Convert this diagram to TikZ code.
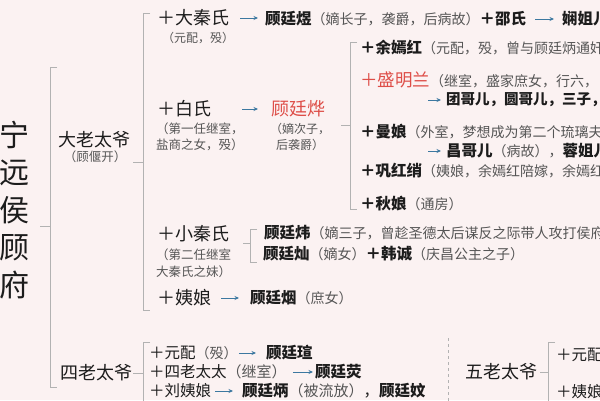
\documentclass[tikz,border=0pt]{standalone}
\usepackage{fontspec}
\setmainfont{Noto Sans CJK SC}
\usetikzlibrary{arrows.meta}
\definecolor{bgc}{RGB}{251,242,242}
\definecolor{ink}{RGB}{28,28,28}
\definecolor{paren}{RGB}{85,85,85}
\definecolor{brkc}{RGB}{178,178,178}
\definecolor{arrc}{RGB}{60,120,160}
\definecolor{redc}{RGB}{222,78,72}
\newcommand\nm[1]{{\fontsize{15.5}{18}\selectfont\bfseries\color{ink}#1}}
\newcommand\pa[1]{{\fontsize{14}{16}\selectfont\color{paren}#1}}
\newcommand\pb[1]{{\fontsize{15}{17}\selectfont\color{paren}#1}}
\newcommand\rg[1]{{\fontsize{15.5}{18}\selectfont\color{ink}#1}}
\newcommand\rd[1]{{\fontsize{17.5}{20}\selectfont\color{redc}#1}}
\tikzset{
  txt/.style={inner sep=0pt, anchor=west, text=ink},
  bigtxt/.style={txt, font=\fontsize{18}{21}\selectfont},
  subtxt/.style={txt, align=left, font=\fontsize{12.5}{16.5}\selectfont, text=paren},
  brk/.style={draw=brkc, line width=0.8pt},
  arr/.style={draw=arrc, line width=0.7pt, -{Stealth[length=4.5pt,width=4pt]}},
  dashline/.style={draw=brkc, line width=0.8pt, dash pattern=on 3pt off 3pt}
}
\begin{document}
\begin{tikzpicture}[x=1pt,y=-1pt]
\useasboundingbox (0,0) rectangle (600,400);
\fill[bgc] (0,0) rectangle (600,400);
\clip (0,0) rectangle (600,400);

% title
\node[inner sep=0pt, align=center, font=\fontsize{30}{37.5}\selectfont, text=ink] (title) at (14,210) {宁\\远\\侯\\顾\\府};

% main bracket
\draw[brk] (40,226) -- (50,226);
\draw[brk] (57,67) -- (50,67) -- (50,387) -- (57,387);

% generation 1
\node[bigtxt] (dalao) at (58,140) {大老太爷};
\node[inner sep=0pt, font=\fontsize{12.5}{15}\selectfont, text=paren] (dalaoSub) at (95,157) {（顾偃开）};
\node[bigtxt] (silao) at (60,373) {四老太爷};
\node[bigtxt] (wulao) at (465,372) {五老太爷};

% da bracket
\draw[brk] (133,162) -- (143,162);
\draw[brk] (150,13) -- (143,13) -- (143,310) -- (150,310);

% 大秦氏
\node[bigtxt] (daqin) at (157,18) {＋大秦氏};
\node[txt, font=\fontsize{12}{14}\selectfont, text=paren] (daqinSub) at (162,38) {（元配，殁）};
\node[txt] (tingyu) at (265,19) {\nm{顾廷煜}\pa{（嫡长子，袭爵，后病故）}\nm{＋邵氏}};
\node[txt] (xianjie) at (562,19) {\nm{娴姐儿}};
\draw[arr, shorten <=11pt, shorten >=7pt] (daqin.east) -- (daqin.east -| tingyu.west);
\draw[arr, shorten <=9pt, shorten >=8pt] (tingyu.east) -- (tingyu.east -| xianjie.west);

% 白氏
\node[bigtxt] (bai) at (157,109) {＋白氏};
\node[subtxt] (baiSub) at (156,137) {（第一任继室，\\盐商之女，殁）};
\node[txt, font=\fontsize{18}{21}\selectfont, text=redc] (tinghua) at (271,109) {顾廷烨};
\node[inner sep=0pt, align=center, font=\fontsize{12}{16.5}\selectfont, text=paren] (tinghuaSub) at (300,137) {（嫡次子，\\后袭爵）};
\draw[arr, shorten <=31pt, shorten >=13pt] (bai.east) -- (bai.east -| tinghua.west);

% 顾廷烨 bracket
\draw[brk] (341,125) -- (350,125);
\draw[brk] (357,42) -- (350,42) -- (350,209) -- (357,209);

\node[txt] (yuyan) at (360,48) {\nm{＋余嫣红}\pa{（元配，殁，曾与顾廷炳通奸）}};
\node[txt] (sheng) at (360,80) {\rd{＋盛明兰}\pa{（继室，盛家庶女，行六，}};
\coordinate (tuanA) at (428,100);
\node[txt] (tuan) at (446,100) {{\fontsize{14.5}{17}\selectfont\bfseries 团哥儿，圆哥儿，三子，}};
\draw[arr, shorten >=5pt] (tuanA) -- (tuan.west);
\node[txt] (man) at (360,132) {\nm{＋曼娘}\pa{（外室，梦想成为第二个琉璃夫人）}};
\coordinate (changA) at (428,151);
\node[txt] (chang) at (446,151) {\nm{昌哥儿}\pa{（病故），}\nm{蓉姐儿}};
\draw[arr, shorten >=5pt] (changA) -- (chang.west);
\node[txt] (gong) at (360,171) {\nm{＋巩红绡}\pa{（姨娘，余嫣红陪嫁，余嫣红}};
\node[txt] (qiu) at (360,204) {\nm{＋秋娘}\pa{（通房）}};

% 小秦氏
\node[bigtxt] (xiaoqin) at (157,234) {＋小秦氏};
\node[subtxt] (xiaoqinSub) at (156,263) {（第二任继室\\大秦氏之妹）};
\draw[brk] (243,243) -- (250,243);
\draw[brk] (257,229) -- (250,229) -- (250,262) -- (257,262);
\node[txt] (tingwei) at (264,233) {\nm{顾廷炜}\pa{（嫡三子，曾趁圣德太后谋反之际带人攻打侯府）}};
\node[txt] (tingcan) at (263,254) {\nm{顾廷灿}\pa{（嫡女）}\nm{＋韩诚}\pa{（庆昌公主之子）}};

% 姨娘
\node[bigtxt] (yiniang) at (157,298) {＋姨娘};
\node[txt] (tingyan) at (250,298) {\nm{顾廷烟}\pa{（庶女）}};
\draw[arr, shorten <=10pt, shorten >=11pt] (yiniang.east) -- (yiniang.east -| tingyan.west);

% 四老太爷
\draw[brk] (133,373) -- (143,373);
\draw[brk] (150,342) -- (143,342) -- (143,405);
\node[txt] (yuanpei) at (149,353) {\rg{＋元配}\pa{（殁）}};
\node[txt] (tingxuan) at (266,353) {\nm{顾廷瑄}};
\draw[arr, shorten <=1pt, shorten >=10pt] (yuanpei.east) -- (yuanpei.east -| tingxuan.west);
\node[txt] (sitaitai) at (149,372) {\rg{＋四老太太}\pb{（继室）}};
\node[txt] (tingying) at (315,372) {\nm{顾廷荧}};
\draw[arr, shorten <=6pt, shorten >=2pt] (sitaitai.east) -- (sitaitai.east -| tingying.west);
\node[txt] (liu) at (149,391) {\rg{＋刘姨娘}};
\node[txt] (tingbing) at (242,391) {\nm{顾廷炳}\pb{（被流放）}\rg{，}\nm{顾廷妏}};
\draw[arr, shorten <=4pt, shorten >=9pt] (liu.east) -- (liu.east -| tingbing.west);

% divider
\draw[dashline] (448,338) -- (448,402);

% 五老太爷
\draw[brk] (540,372) -- (548,372);
\draw[brk] (555,342) -- (548,342) -- (548,405);
\node[txt] (wuyuan) at (556,355) {\rg{＋元配}};
\node[txt] (wuyi) at (556,392) {\rg{＋姨娘}};
\end{tikzpicture}
\end{document}
